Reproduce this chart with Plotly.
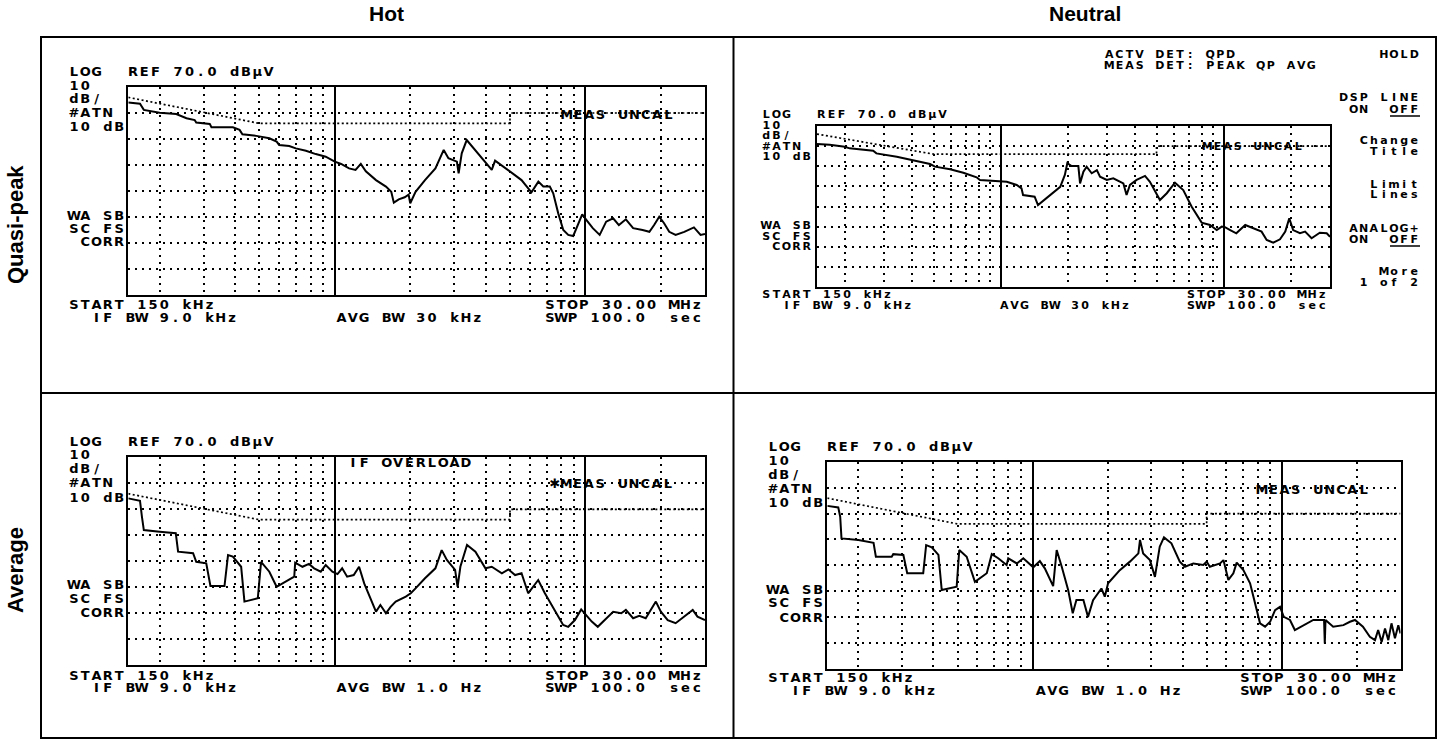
import math
import plotly.graph_objects as go

W, H = 1437, 740

# ---------------- data (MHz, dBuV) ----------------
hot_qp_freq = [0.15, 0.167, 0.173, 0.20, 0.233, 0.256, 0.276, 0.28, 0.317, 0.322, 0.392, 0.417, 0.428, 0.486,
               0.548, 0.586, 0.60, 0.658, 0.699, 0.767, 0.84, 0.92, 1.0, 1.06, 1.14, 1.21, 1.27, 1.33, 1.46, 1.60,
               1.68, 1.72, 1.80, 1.90, 1.97, 2.0, 2.1, 2.29, 2.52, 2.72, 2.84, 3.07, 3.12, 3.21, 3.36, 3.63, 3.98,
               4.23, 4.36, 4.92, 5.56, 6.09, 6.49, 6.79, 7.21, 7.44, 7.79, 8.16, 8.54, 8.94, 9.36, 9.71, 10.1,
               10.7, 11.4, 12.1, 12.9, 13.6, 14.5, 15.5, 16.9, 18.0, 18.8, 19.7, 20.6, 21.6, 22.9, 24.8, 27.1,
               28.8, 30.0]
hot_qp_level = [64.0, 63.6, 61.2, 60.1, 59.6, 58.0, 57.3, 56.3, 55.8, 54.5, 54.5, 53.5, 51.8, 51.2,
                50.3, 49.0, 47.7, 47.3, 46.4, 45.5, 44.2, 43.2, 41.3, 40.4, 38.7, 38.1, 40.4, 37.6, 34.2, 31.7,
                29.7, 25.5, 26.8, 27.6, 28.6, 25.3, 29.7, 34.2, 38.7, 45.8, 42.6, 41.3, 36.8, 44.5, 49.6, 45.8, 41.3,
                38.1, 41.7, 38.1, 34.2, 29.5, 33.6, 31.7, 31.7, 29.1, 21.4, 15.0, 13.1, 12.7, 17.6, 21.0, 18.8,
                15.7, 13.1, 18.2, 19.5, 16.9, 19.1, 15.7, 15.0, 14.3, 16.9, 20.1, 17.6, 14.3, 13.1, 14.3, 16.0,
                13.1, 13.5]

neutral_qp_freq = [0.15, 0.171, 0.20, 0.21, 0.268, 0.277, 0.342, 0.399, 0.482, 0.507, 0.593, 0.68, 0.78, 0.807,
                   0.994, 1.065, 1.18, 1.24, 1.26, 1.42, 1.47, 1.66, 1.85, 1.94, 1.99, 2.08, 2.23, 2.27, 2.35,
                   2.43, 2.56, 2.70, 2.79, 2.99, 3.20, 3.55, 3.67, 3.80, 4.07, 4.44, 4.67, 5.18, 5.56, 6.05, 6.59,
                   7.19, 7.70, 7.97, 8.69, 9.31, 9.81, 10.14, 10.7, 11.4, 12.5, 13.6, 14.8, 15.6, 16.7, 17.9,
                   18.9, 19.7, 20.5, 22.0, 23.2, 24.8, 27.0, 29.0, 30.0]
neutral_qp_level = [61.1, 60.7, 59.7, 58.9, 57.7, 56.4, 54.7, 53.1, 51.1, 49.8, 48.5, 46.8, 44.5, 43.2,
                    42.8, 42.3, 40.7, 39.0, 35.7, 34.9, 30.7, 35.7, 39.8, 45.7, 51.5, 50.1, 50.1, 41.5, 47.3,
                    49.8, 46.5, 48.1, 44.8, 43.2, 44.0, 41.5, 35.7, 40.7, 43.2, 45.2, 42.3, 33.2, 36.6, 41.8, 38.2,
                    29.9, 24.9, 22.0, 20.8, 18.3, 20.0, 19.7, 18.3, 16.7, 20.8, 19.2, 17.5, 13.4, 12.0, 13.7,
                    17.5, 24.1, 18.3, 16.7, 17.5, 14.2, 17.0, 16.7, 15.0]

hot_avg_freq = [0.15, 0.167, 0.170, 0.173, 0.20, 0.232, 0.237, 0.272, 0.28, 0.307, 0.319, 0.363, 0.375, 0.392,
                0.423, 0.436, 0.493, 0.508, 0.548, 0.586, 0.619, 0.689, 0.695, 0.743, 0.789, 0.827, 0.879, 0.92,
                0.978, 1.025, 1.07, 1.12, 1.19, 1.25, 1.31, 1.41, 1.46, 1.52, 1.60, 1.67, 1.75, 1.92, 2.01, 2.10,
                2.29, 2.52, 2.67, 2.80, 3.02, 3.09, 3.17, 3.37, 3.64, 3.99, 4.23, 4.64, 4.93, 5.24, 5.56, 5.91,
                6.48, 6.89, 7.55, 8.15, 8.54, 9.08, 9.62, 9.94, 10.6, 11.2, 11.9, 12.9, 13.9, 14.5, 15.5, 16.4,
                17.4, 19.1, 20.0, 21.3, 22.9, 24.7, 26.8, 28.0, 30.0]
hot_avg_level = [54.2, 53.3, 47.2, 42.0, 41.4, 40.8, 33.7, 33.1, 29.8, 29.2, 20.5, 20.5, 32.4, 31.8,
                 27.9, 14.5, 15.8, 29.8, 26.0, 20.2, 21.5, 24.1, 29.5, 27.9, 29.0, 27.3, 26.0, 28.6,
                 26.0, 25.1, 27.3, 24.1, 24.7, 27.9, 21.5, 14.5, 10.6, 13.2, 10.0, 12.5, 14.5, 16.4, 17.7, 19.6,
                 23.5, 27.3, 34.3, 30.5, 26.7, 20.2, 27.9, 36.3, 33.7, 27.3, 27.9, 25.4, 26.9, 24.7, 25.4, 17.7,
                 22.8, 17.7, 11.3, 5.5, 4.8, 7.4, 11.5, 10.0, 6.8, 4.8, 7.4, 10.6, 10.0, 11.3, 8.1, 9.0,
                 8.1, 14.5, 10.6, 7.4, 6.2, 8.7, 11.3, 8.7, 7.4]

neutral_avg_freq = [0.15, 0.166, 0.169, 0.171, 0.20, 0.23, 0.235, 0.272, 0.276, 0.303, 0.314, 0.364, 0.374,
                    0.394, 0.419, 0.432, 0.496, 0.508, 0.544, 0.587, 0.655, 0.686, 0.728, 0.787, 0.799, 0.865,
                    0.918, 1.007, 1.07, 1.12, 1.21, 1.25, 1.31, 1.39, 1.45, 1.50, 1.60, 1.67, 1.75, 1.89, 1.95,
                    2.01, 2.24, 2.46, 2.66, 2.70, 2.78, 2.96, 3.10, 3.24, 3.37, 3.61, 3.90, 4.09, 4.42, 4.85,
                    5.0, 5.15, 5.66, 5.84, 6.11, 6.40, 6.60, 7.02, 7.47, 7.82, 8.19, 8.58, 8.99, 9.41, 9.85,
                    10.2, 10.8, 11.3, 12.2, 13.4, 14.2, 14.8, 14.9, 15.0, 16.1, 17.7, 18.8, 19.7, 21.2, 22.6,
                    23.7, 24.4, 25.2, 26.0, 26.8, 27.6, 28.5, 29.4, 30.0]
neutral_avg_level = [53.0, 52.4, 48.8, 40.4, 39.8, 38.7, 33.3, 33.3, 34.3, 34.0, 26.9, 26.9, 37.8,
                     36.9, 34.0, 20.4, 21.7, 35.9, 33.3, 23.6, 26.9, 34.3, 32.7, 30.1, 32.7, 30.7,
                     32.7, 29.2, 31.6, 28.8, 21.9, 35.9, 29.4, 20.4, 11.4, 16.5, 16.5, 10.0, 16.5, 21.0, 17.8,
                     23.0, 28.1, 31.4, 34.6, 39.8, 34.6, 32.0, 25.5, 37.2, 40.8, 38.5, 31.4, 29.4, 30.7, 30.1,
                     31.4, 29.4, 30.7, 32.0, 24.3, 26.9, 31.0, 28.1, 23.0, 15.2, 7.5, 6.2, 8.1, 12.6, 13.9,
                     10.0, 8.8, 4.9, 6.8, 8.8, 8.8, 8.8, -0.3, 8.8, 6.2, 6.8, 8.1, 8.8, 6.2, 2.3,
                     1.0, 4.9, 0.3, 5.5, 1.0, 7.5, 1.7, 6.8, 3.6]

limit_freq = [0.15, 0.5, 5, 5, 30]
qp_limit_level = [66, 56, 56, 60, 60]
avg_limit_level = [56, 46, 46, 50, 50]

col_titles = ["Hot", "Neutral"]
row_titles = ["Quasi-peak", "Average"]

# ---------------- layout helpers ----------------
def px2paper_x(v):
    return v / W

def px2paper_y(v):
    return 1 - v / H

panels = [
    dict(freq=hot_qp_freq, level=hot_qp_level, limit=qp_limit_level, bx=(128.3, 705), by=(87, 295)),
    dict(freq=neutral_qp_freq, level=neutral_qp_level, limit=qp_limit_level, bx=(817, 1330), by=(126, 287)),
    dict(freq=hot_avg_freq, level=hot_avg_level, limit=avg_limit_level, bx=(128.3, 705), by=(457.3, 665.3)),
    dict(freq=neutral_avg_freq, level=neutral_avg_level, limit=avg_limit_level, bx=(827.3, 1400.5), by=(462, 668.5)),
]

minor_vals = [0.2, 0.3, 0.4, 0.5, 0.6, 0.7, 0.8, 0.9, 2, 3, 4, 5, 6, 7, 8, 9, 20]
DOT = "2px,5px"

fig = go.Figure()
layout_axes = {}
for i, p in enumerate(panels, start=1):
    xa = "x" if i == 1 else f"x{i}"
    ya = "y" if i == 1 else f"y{i}"
    fig.add_trace(go.Scatter(x=limit_freq, y=p["limit"], xaxis=xa, yaxis=ya, mode="lines",
                             line=dict(color="black", width=1.7, dash="2px,2.5px"),
                             hoverinfo="skip", showlegend=False))
    fig.add_trace(go.Scatter(x=p["freq"], y=p["level"], xaxis=xa, yaxis=ya, mode="lines",
                             line=dict(color="black", width=2),
                             hoverinfo="skip", showlegend=False))
    xname = "xaxis" if i == 1 else f"xaxis{i}"
    yname = "yaxis" if i == 1 else f"yaxis{i}"
    layout_axes[xname] = dict(
        type="log", range=[math.log10(0.15), math.log10(30)],
        domain=[px2paper_x(p["bx"][0]), px2paper_x(p["bx"][1])],
        anchor=ya, showline=True, mirror=True, linecolor="black", linewidth=2,
        tickmode="array", tickvals=[1, 10], showgrid=True, gridcolor="black", gridwidth=2,
        showticklabels=False, ticks="", zeroline=False, fixedrange=True,
        minor=dict(tickmode="array", tickvals=minor_vals, showgrid=True, gridcolor="black",
                   griddash=DOT, gridwidth=1.5, ticks=""),
    )
    layout_axes[yname] = dict(
        range=[-10, 70], domain=[px2paper_y(p["by"][1]), px2paper_y(p["by"][0])],
        anchor=xa, showline=True, mirror=True, linecolor="black", linewidth=2,
        tickmode="array", tickvals=[0, 10, 20, 30, 40, 50, 60], showgrid=True, gridcolor="black",
        gridwidth=1.5, griddash=DOT, showticklabels=False, ticks="", zeroline=False, fixedrange=True,
    )

# overlay axis in pixel units for screen text
layout_axes["xaxis5"] = dict(domain=[0, 1], range=[0, W], visible=False, anchor="y5", fixedrange=True)
layout_axes["yaxis5"] = dict(domain=[0, 1], range=[H, 0], visible=False, anchor="x5", fixedrange=True)

# analyzer screen text: (string, left x, center y, pitch)
TL, BLp, TRp = 11.3, 11.3, 10.1
screen_text = [
    ("LOG", 69, 73, TL), ("REF 70.0 dBμV", 128, 73, TL), ("10", 69, 86.5, TL), ("dB/", 69, 100, TL),
    ("#ATN", 69, 114, TL), ("10 dB", 69, 128, TL), ("WA SB", 69, 217, TL), ("SC FS", 69, 230, TL),
    ("CORR", 80.3, 243, TL), ("MEAS UNCAL", 561.7, 116, TL), ("START 150 kHz", 69, 305.5, TL),
    ("IF BW 9.0 kHz", 91.6, 318.5, TL), ("AVG BW 30 kHz", 336.7, 318.5, TL), ("STOP 30.00 MHz", 545, 305.5, TL),
    ("SWP 100.0  sec", 545, 318.5, TL),

    ("LOG", 69, 442.7, BLp), ("REF 70.0 dBμV", 128, 442.7, BLp), ("10", 69, 456, BLp), ("dB/", 69, 470, BLp),
    ("#ATN", 69, 484, BLp), ("10 dB", 69, 498.5, BLp), ("WA SB", 69, 586, BLp), ("SC FS", 69, 600, BLp),
    ("CORR", 80.3, 613.3, BLp), ("IF OVERLOAD", 348, 463.3, BLp), ("✱MEAS UNCAL", 550, 485, BLp),
    ("START 150 kHz", 69, 676.7, BLp), ("IF BW 9.0 kHz", 91.6, 689, BLp), ("AVG BW 1.0 Hz", 336.7, 689, BLp),
    ("STOP 30.00 MHz", 545, 676.7, BLp), ("SWP 100.0  sec", 545, 689, BLp),

    ("ACTV DET: QPD", 1105, 55, TRp), ("MEAS DET: PEAK QP AVG", 1105, 66, TRp), ("HOLD", 1379.6, 55, TRp),
    ("DSP LINE", 1339.2, 98.3, TRp), ("ON  OFF", 1349.3, 110, TRp), ("Change", 1359.4, 141.7, TRp),
    ("Title", 1369.5, 152, TRp), ("Limit", 1369.5, 185, TRp), ("Lines", 1369.5, 195.5, TRp),
    ("ANALOG+", 1349.3, 229.3, TRp), ("ON  OFF", 1349.3, 240, TRp), ("More", 1379.6, 272.7, TRp),
    ("1 of 2", 1359.4, 283, TRp),
    ("LOG", 762, 115, TRp), ("REF 70.0 dBμV", 817, 115, TRp), ("10", 762, 126, TRp), ("dB/", 762, 136.5, TRp),
    ("#ATN", 762, 147, TRp), ("10 dB", 762, 157.5, TRp), ("WA SB", 762, 226.7, TRp), ("SC FS", 762, 236.9, TRp),
    ("CORR", 772.1, 247.1, TRp), ("MEAS UNCAL", 1203, 147, TRp), ("START 150 kHz", 762, 295.5, TRp),
    ("IF BW 9.0 kHz", 782.2, 306, TRp), ("AVG BW 30 kHz", 1000, 306, TRp), ("STOP 30.00 MHz", 1186.7, 295.5, TRp),
    ("SWP 100.0  sec", 1186.7, 306, TRp),

    ("LOG", 768, 447.3, BLp), ("REF 70.0 dBμV", 827, 447.3, BLp), ("10", 768, 461.7, BLp), ("dB/", 768, 476, BLp),
    ("#ATN", 768, 490, BLp), ("10 dB", 768, 504, BLp), ("WA SB", 768, 590.7, BLp), ("SC FS", 768, 604, BLp),
    ("CORR", 779.3, 618.3, BLp), ("MEAS UNCAL", 1257, 490.7, BLp), ("START 150 kHz", 768, 679, BLp),
    ("IF BW 9.0 kHz", 790.6, 692, BLp), ("AVG BW 1.0 Hz", 1036, 692, BLp), ("STOP 30.00 MHz", 1240, 679, BLp),
    ("SWP 100.0  sec", 1240, 692, BLp),
]

groups = {}
for s, x0, y, pitch in screen_text:
    size = 11 if pitch == TRp else 13
    g = groups.setdefault(size, ([], [], []))
    for k, ch in enumerate(s):
        if ch.strip():
            g[0].append(x0 + pitch * k + (pitch - 1.5) / 2)
            g[1].append(y)
            g[2].append(ch)

for size, (xs, ys, ts) in groups.items():
    fig.add_trace(go.Scatter(x=xs, y=ys, text=ts, mode="text", xaxis="x5", yaxis="y5",
                             textposition="middle center", cliponaxis=False,
                             textfont=dict(family="DejaVu Sans", size=size, color="black", weight="bold"),
                             hoverinfo="skip", showlegend=False))

shapes = [
    dict(type="rect", xref="x5", yref="y5", x0=41, y0=37, x1=1436, y1=738, line=dict(color="black", width=2)),
    dict(type="line", xref="x5", yref="y5", x0=733.5, y0=37, x1=733.5, y1=738, line=dict(color="black", width=2)),
    dict(type="line", xref="x5", yref="y5", x0=41, y0=393, x1=1436, y1=393, line=dict(color="black", width=2)),
    dict(type="line", xref="x5", yref="y5", x0=1390, y0=116, x1=1420, y1=116, line=dict(color="black", width=1.5)),
    dict(type="line", xref="x5", yref="y5", x0=1390, y0=246, x1=1420, y1=246, line=dict(color="black", width=1.5)),
]

annotations = [
    dict(text=f"<b>{col_titles[0]}</b>", x=px2paper_x(386), y=px2paper_y(13), xref="paper", yref="paper",
         xanchor="center", yanchor="middle", showarrow=False,
         font=dict(family="Liberation Sans", size=21, color="black")),
    dict(text=f"<b>{col_titles[1]}</b>", x=px2paper_x(1085), y=px2paper_y(13), xref="paper", yref="paper",
         xanchor="center", yanchor="middle", showarrow=False,
         font=dict(family="Liberation Sans", size=21, color="black")),
    dict(text=f"<b>{row_titles[0]}</b>", x=px2paper_x(15), y=px2paper_y(225), xref="paper", yref="paper",
         xanchor="center", yanchor="middle", showarrow=False, textangle=-90,
         font=dict(family="Liberation Sans", size=22, color="black")),
    dict(text=f"<b>{row_titles[1]}</b>", x=px2paper_x(15), y=px2paper_y(570), xref="paper", yref="paper",
         xanchor="center", yanchor="middle", showarrow=False, textangle=-90,
         font=dict(family="Liberation Sans", size=22, color="black")),
]

fig.update_layout(
    width=W, height=H, margin=dict(l=0, r=0, t=0, b=0), autosize=False,
    paper_bgcolor="white", plot_bgcolor="rgba(0,0,0,0)", showlegend=False,
    shapes=shapes, annotations=annotations, **layout_axes,
)

fig.write_html("out.html", config={"displayModeBar": False},
               post_script="document.body.style.margin='0px';document.body.style.overflow='hidden';")
